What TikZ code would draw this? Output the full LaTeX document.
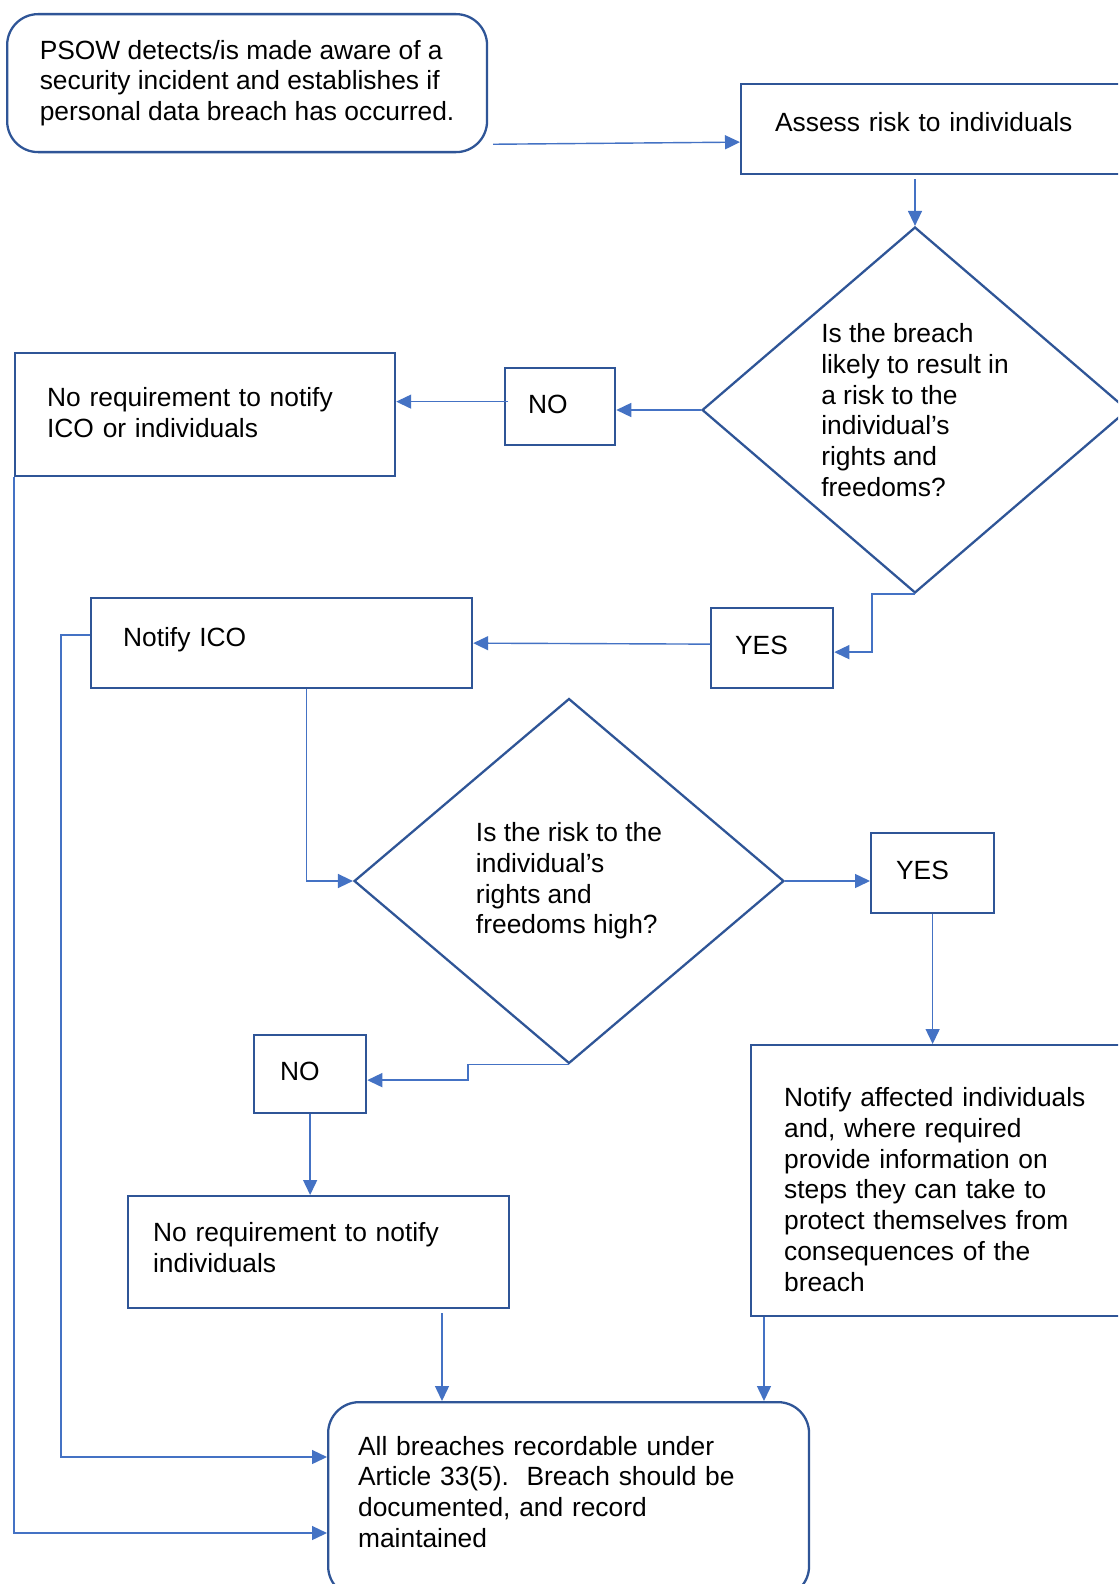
\documentclass[tikz,border=0pt]{standalone}
\usepackage{fontspec}
\setmainfont{Liberation Sans}
\usetikzlibrary{arrows.meta,shapes.geometric}
\definecolor{boxblue}{RGB}{47,85,151}
\definecolor{lineblue}{RGB}{68,114,196}
\tikzset{
  box/.style={draw=boxblue, line width=1.3pt, anchor=north west, align=left,
    inner ysep=0pt, font=\fontsize{15}{17.5}\selectfont},
  roundbox/.style={box, rounded corners=0.62cm},
  decision/.style={diamond, draw=boxblue, line width=1.3pt, aspect=1.16,
    inner sep=0pt, align=left, font=\fontsize{15}{17.5}\selectfont},
  link/.style={lineblue, line width=0.8pt},
  arr/.style={link, -{Triangle[length=0.3cm,width=0.28cm]}},
}
\begin{document}
\begin{tikzpicture}[x=0.02cm,y=-0.02cm]
    \useasboundingbox (0,0) rectangle (1118,1584);
    \fill[white] (0,0) rectangle (1118,1584);
    \clip (0,0) rectangle (1118,1584);

    %partenza
    \node[roundbox, minimum height=2.76cm, minimum width=9.6cm] (start) at (6,13)
        {PSOW detects/is made aware of a\\security incident and establishes if\\personal data breach has occurred.};
    \node[box, minimum height=1.8cm, inner xsep=0.68cm, text width=6.64cm, text depth=0.28cm] (assess) at (740,83)
        {Assess risk to individuals};

    %prima domanda
    \node[decision, minimum width=8.52cm, minimum height=7.32cm] (risk) at (915,410)
        {Is the breach\\likely to result in\\a risk to the\\individual’s\\rights and\\freedoms?};
    \node[box, minimum height=1.54cm, inner xsep=0.46cm, text width=1.28cm, text depth=0.1cm] (no1) at (504,367) {NO};
    \node[box, minimum height=2.46cm, inner xsep=0.64cm, text width=6.32cm] (noneed) at (14,352)
        {No requirement to notify\\ICO or individuals\rule[-0.1cm]{0pt}{0pt}};
    \node[box, minimum height=1.6cm, inner xsep=0.48cm, text width=1.48cm, text depth=0.12cm] (yes1) at (710,607) {YES};
    \node[box, minimum height=1.8cm, inner xsep=0.64cm, text width=6.34cm, text depth=0.26cm] (ico) at (90,597) {Notify ICO};

    %seconda domanda
    \node[decision, minimum width=8.6cm, minimum height=7.3cm] (high) at (569,881)
        {Is the risk to the\\individual’s\\rights and\\freedoms high?};
    \node[box, minimum height=1.6cm, inner xsep=0.5cm, text width=1.46cm, text depth=0.12cm] (yes2) at (870,832) {YES};
    \node[box, minimum height=1.56cm, inner xsep=0.52cm, text width=1.2cm, text depth=0.12cm] (no2) at (253,1034) {NO};
    \node[box, minimum height=2.24cm, inner xsep=0.5cm, text width=6.62cm] (noindiv) at (127,1195)
        {No requirement to notify\\individuals\rule[-0.18cm]{0pt}{0pt}};
    \node[box, minimum height=5.42cm, inner xsep=0.66cm, text width=6.68cm] (affected) at (750,1044)
        {\rule{0pt}{0.74cm}Notify affected individuals\\and, where required\\provide information on\\steps they can take to\\protect themselves from\\consequences of the\\breach};

    %registro
    \node[roundbox, minimum height=3.9cm, inner xsep=0.6cm, text width=8.42cm] (record) at (327,1401)
        {All breaches recordable under\\Article 33(5).\ \ Breach should be\\documented, and record\\maintained\rule[-0.32cm]{0pt}{0pt}};

    %frecce
    \draw[arr] ([shift={(5,-9)}]start.south east) -- ([shift={(0,13)}]assess.west);
    \draw[arr] ([shift={(0,4)}]risk.north |- assess.south) -- (risk.north);
    \draw[arr] (risk.west) -- (risk.west -| no1.east);
    \coordinate (noout) at ([shift={(4,-5)}]no1.west);
    \draw[arr] (noout) -- (noout -| noneed.east);
    \draw[arr] (noneed.south west) |- ([shift={(0,132)}]record.north west);
    \draw[arr] (risk.south) -- ++(-43,0) |- ([shift={(0,4)}]yes1.east);
    \draw[arr] ([shift={(0,-4)}]yes1.west) -- (ico.east);
    \draw[arr] ([shift={(0,-8)}]ico.west) -- ++(-29,0) |- ([shift={(0,56)}]record.north west);
    \draw[arr] ([shift={(25,0)}]ico.south) |- (high.west);
    \draw[arr] (high.east) -- (high.east -| yes2.west);
    \draw[arr] (yes2.south) -- (yes2.south |- affected.north);
    \draw[arr] (high.south) -- ++(-101,0) |- ([shift={(0,6)}]no2.east);
    \draw[arr] (no2.south) -- (no2.south |- noindiv.north);
    \coordinate (indivout) at ([shift={(315,4)}]noindiv.south west);
    \draw[arr] (indivout) -- (indivout |- record.north);
    \coordinate (affout) at ([shift={(14,0)}]affected.south west);
    \draw[arr] (affout) -- (affout |- record.north);

\end{tikzpicture}
\end{document}
